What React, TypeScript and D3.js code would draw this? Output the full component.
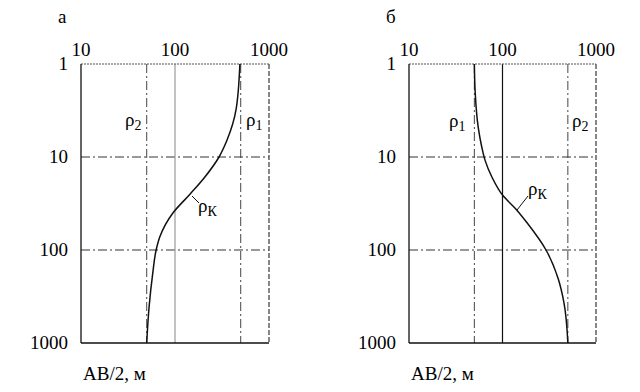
import React, { useEffect, useRef } from 'react';
import * as d3 from 'd3';

// значения кривых (AB/2, м -> ρк, Ом·м)
const abA = [1, 3.1, 6.6, 10, 16.4, 25, 40, 72, 100, 177, 410, 1000];
const rhoA = [490, 446, 357, 294, 208, 145, 95, 69, 63, 58, 53, 50];
const abB = [1, 2, 4.8, 7.8, 10.8, 16.4, 26, 36, 51, 100, 200, 372, 1000];
const rhoB = [50, 51, 55, 60, 65, 77, 101, 138, 183, 292, 392, 455, 500];

const rhoTicks = [10, 100, 1000];
const abTicks = [1, 10, 100, 1000];
const panelNames = ['а', 'б'];
const layerRho = [
  { a: 500, b: 50 }, // ρ1
  { a: 50, b: 500 }, // ρ2
];

const FONT = 'Liberation Serif, serif';

const App = () => {
  const ref = useRef<SVGSVGElement>(null);

  useEffect(() => {
    const svg = d3.select(ref.current);
    svg.selectAll('*').remove();

    const top = 64;
    const bottom = 343;
    const dashDot = '9,3,2,3';

    const panels = [
      { left: 81, right: 269, ab: abA, rho: rhoA, rho1: layerRho[0].a, rho2: layerRho[1].a, midColor: '#999', key: 'a' },
      { left: 409, right: 596, ab: abB, rho: rhoB, rho1: layerRho[0].b, rho2: layerRho[1].b, midColor: '#111', key: 'b' },
    ];

    panels.forEach((p, i) => {
      const x = d3.scaleLog().domain([10, 1000]).range([p.left, p.right]);
      const y = d3.scaleLog().domain([1, 1000]).range([top, bottom]);
      const g = svg.append('g').attr('font-family', FONT);

      // горизонтальные линии 10 и 100
      [10, 100].forEach((v) => {
        g.append('line')
          .attr('x1', p.left).attr('x2', p.right)
          .attr('y1', y(v)).attr('y2', y(v))
          .attr('stroke', '#333').attr('stroke-width', 1)
          .attr('stroke-dasharray', dashDot);
      });

      // вертикальные линии ρ1, ρ2 и 100
      [p.rho1, p.rho2].forEach((v) => {
        g.append('line')
          .attr('x1', x(v)).attr('x2', x(v))
          .attr('y1', top).attr('y2', bottom)
          .attr('stroke', '#444').attr('stroke-width', 1)
          .attr('stroke-dasharray', dashDot);
      });
      g.append('line')
        .attr('x1', x(100)).attr('x2', x(100))
        .attr('y1', top).attr('y2', bottom)
        .attr('stroke', p.midColor).attr('stroke-width', 1.2);

      // рамка
      g.append('line').attr('x1', p.left).attr('x2', p.right).attr('y1', top).attr('y2', top)
        .attr('stroke', '#555').attr('stroke-width', 1.2).attr('stroke-dasharray', '2,1');
      g.append('line').attr('x1', p.right).attr('x2', p.right).attr('y1', top).attr('y2', bottom)
        .attr('stroke', '#555').attr('stroke-width', 1.4).attr('stroke-dasharray', '5,2');
      g.append('line').attr('x1', p.left).attr('x2', p.left).attr('y1', top).attr('y2', bottom)
        .attr('stroke', '#111').attr('stroke-width', 1.3);
      g.append('line').attr('x1', p.left).attr('x2', p.right).attr('y1', bottom).attr('y2', bottom)
        .attr('stroke', '#111').attr('stroke-width', 1.3);

      // кривая ρк
      const pts = p.ab.map((a, k) => [x(p.rho[k]), y(a)] as [number, number]);
      g.append('path')
        .attr('d', d3.line().curve(d3.curveMonotoneY)(pts))
        .attr('fill', 'none').attr('stroke', '#111').attr('stroke-width', 1.5);

      // подписи шкал
      rhoTicks.forEach((t) => {
        g.append('text')
          .attr('x', x(t)).attr('y', 56)
          .attr('text-anchor', 'middle')
          .attr('font-size', 19)
          .text(t);
      });
      abTicks.forEach((t) => {
        g.append('text')
          .attr('x', p.left - 13).attr('y', y(t) + 6)
          .attr('text-anchor', 'end')
          .attr('font-size', 19)
          .text(t);
      });

      g.append('text')
        .attr('x', p.left - 23).attr('y', 23)
        .attr('font-size', 19)
        .text(panelNames[i]);
      g.append('text')
        .attr('x', p.left + 2).attr('y', 380)
        .attr('font-size', 19)
        .text('AB/2, м');

      // подписи ρ1, ρ2, ρк
      const rhoLabel = (px: number, py: number, sub: string) => {
        const t = g.append('text')
          .attr('x', px).attr('y', py)
          .attr('font-size', 19);
        t.append('tspan').text('ρ');
        t.append('tspan').attr('dy', 4).attr('font-size', 14).text(sub);
      };
      if (p.key === 'a') {
        rhoLabel(125, 126, '2');
        rhoLabel(246, 126, '1');
        rhoLabel(198, 212, 'К');
        g.append('line').attr('x1', 192).attr('y1', 196).attr('x2', 199).attr('y2', 203)
          .attr('stroke', '#111').attr('stroke-width', 1);
      } else {
        rhoLabel(449, 127, '1');
        rhoLabel(572, 127, '2');
        rhoLabel(528, 195, 'К');
        g.append('line').attr('x1', 517).attr('y1', 210).attr('x2', 528).attr('y2', 196)
          .attr('stroke', '#111').attr('stroke-width', 1);
      }
    });
  }, []);

  return (
    <svg
      ref={ref}
      width={640}
      height={392}
      style={{ position: 'absolute', left: 0, top: 0, background: '#fff' }}
    />
  );
};

export default App;
